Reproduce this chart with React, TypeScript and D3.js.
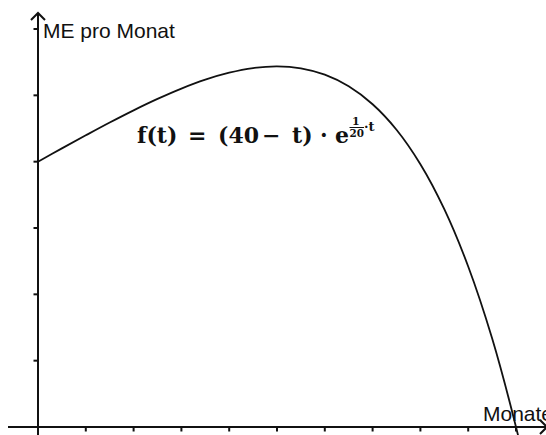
import React from "react";
import * as d3 from "d3";

// Monthly sales quantity (ME) over time t in months
const months = [0, 2, 4, 6, 8, 10, 12, 14, 16, 18, 20, 22, 24, 26, 28, 30, 32, 34, 36, 38, 40, 41];
const quantity = [40, 42.0, 43.97, 45.9, 47.74, 49.46, 51.02, 52.36, 53.41, 54.11, 54.37, 54.08, 53.12, 51.37, 48.66, 44.82, 39.62, 32.84, 24.2, 13.37, 0, -7.77];
const xTicks = [4, 8, 12, 16, 20, 24, 28, 32, 36, 40];
const yTicks = [10, 20, 30, 40, 50, 60];
const yLabel = "ME pro Monat";
const xLabel = "Monate";

const W = 546;
const H = 435;

export default function App() {
  const x = d3.scaleLinear().domain([0, 40]).range([38, 516]);
  const y = d3.scaleLinear().domain([0, 60]).range([427, 29]);

  const pts: [number, number][] = months.map((m, i) => [m, quantity[i]]);
  const line = d3
    .line<[number, number]>()
    .x((d) => x(d[0]))
    .y((d) => y(d[1]))
    .curve(d3.curveCatmullRom.alpha(0.5));

  const x0 = x(0);
  const y0 = y(0);
  const stroke = "#111";
  const serif = "'DejaVu Serif', 'Liberation Serif', serif";
  const sans = "'Liberation Sans', Arial, sans-serif";

  return (
    <svg
      width={W}
      height={H}
      style={{ position: "absolute", left: 0, top: 0, background: "#fff" }}
    >
      <defs>
        <clipPath id="plot">
          <rect x={0} y={0} width={W} height={H} />
        </clipPath>
      </defs>
      <rect x={0} y={0} width={W} height={H} fill="#fff" />

      {/* x axis */}
      <line x1={8} y1={y0} x2={W + 10} y2={y0} stroke={stroke} strokeWidth={2} />
      <polyline
        points={`${W - 6},${y0 + 7} ${W + 1},${y0} ${W - 6},${y0 - 7}`}
        fill="none"
        stroke={stroke}
        strokeWidth={2}
      />
      {xTicks.map((t) => (
        <line key={t} x1={x(t)} x2={x(t)} y1={y0} y2={y0 + 4.5} stroke={stroke} strokeWidth={2} />
      ))}

      {/* y axis */}
      <line x1={x0} y1={H} x2={x0} y2={13} stroke={stroke} strokeWidth={2} />
      <polyline
        points={`${x0 - 7},${20} ${x0},${13} ${x0 + 7},${20}`}
        fill="none"
        stroke={stroke}
        strokeWidth={2}
      />
      {yTicks.map((v) => (
        <line key={v} x1={x0 - 4.5} x2={x0} y1={y(v)} y2={y(v)} stroke={stroke} strokeWidth={2} />
      ))}

      {/* axis labels */}
      <text x={43} y={38} fontFamily={sans} fontSize={21} fill="#111">
        {yLabel}
      </text>
      <text x={483} y={421} fontFamily={sans} fontSize={21} fill="#111">
        {xLabel}
      </text>

      {/* function curve */}
      <path
        d={line(pts) ?? ""}
        fill="none"
        stroke={stroke}
        strokeWidth={1.8}
        clipPath="url(#plot)"
      />

      {/* formula */}
      <g fontFamily={serif} fontWeight="bold" fill="#111" fontSize={22}>
        <text y={143}>
          <tspan x={137}>f(t)</tspan>
          <tspan x={188}>=</tspan>
          <tspan x={218}>(40</tspan>
          <tspan x={262}>−</tspan>
          <tspan x={292}>t)</tspan>
          <tspan x={320}>·</tspan>
          <tspan x={335}>e</tspan>
        </text>
        <text x={352} y={125} fontSize={11}>1</text>
        <line x1={349.5} x2={364} y1={127.5} y2={127.5} stroke="#111" strokeWidth={1} />
        <text x={349.5} y={137} fontSize={10.5} textLength={14.5} lengthAdjust="spacingAndGlyphs">20</text>
        <text x={364} y={131} fontSize={13}>·t</text>
      </g>
    </svg>
  );
}
